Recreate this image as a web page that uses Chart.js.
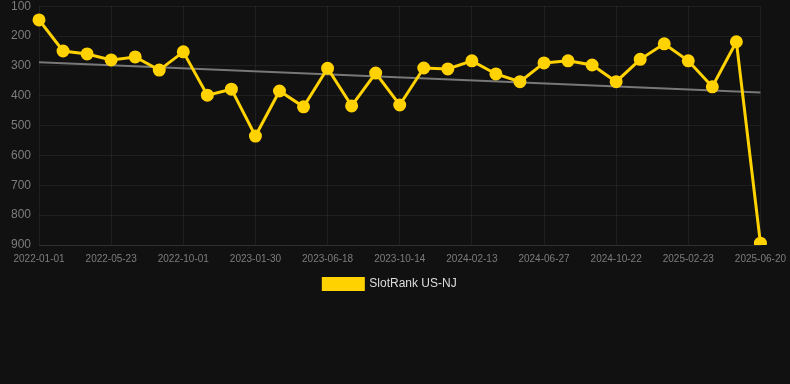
<!DOCTYPE html>
<html>
<head>
<meta charset="utf-8">
<script src="https://cdn.jsdelivr.net/npm/chart.js@4/dist/chart.umd.min.js"></script>
<style>
  html, body { margin: 0; padding: 0; background: #111111; overflow: hidden; }
  #wrap { width: 794px; height: 309px; position: relative; margin-top: -9px; }
</style>
</head>
<body>
<div id="wrap"><canvas id="c"></canvas></div>
<script>
const dates = [
  "2022-01-01","2022-02-17","2022-04-05","2022-05-23","2022-07-08","2022-08-15",
  "2022-10-01","2022-11-10","2022-12-20","2023-01-30","2023-03-17","2023-05-02",
  "2023-06-18","2023-07-30","2023-09-01","2023-10-14","2023-11-24","2024-01-03",
  "2024-02-13","2024-03-28","2024-05-13","2024-06-27","2024-08-08","2024-09-15",
  "2024-10-22","2024-12-05","2025-01-14","2025-02-23","2025-04-05","2025-05-13",
  "2025-06-20"
];
const rankValues = [
  146, 250, 260, 280, 270, 314, 253, 398, 378, 535, 384, 437,
  308, 434, 324, 431, 307, 310, 283, 327, 353, 290, 283, 297,
  353, 278, 226, 283, 370, 219, 894
];
const trendStart = 288;
const trendEnd = 389;
const yTicks = [100, 200, 300, 400, 500, 600, 700, 800, 900];

const trendData = dates.map((d, i) => i === 0 ? trendStart : (i === dates.length - 1 ? trendEnd : null));

new Chart(document.getElementById('c'), {
  type: 'line',
  data: {
    labels: dates,
    datasets: [
      {
        label: 'SlotRank US-NJ',
        data: rankValues,
        borderColor: '#FFD200',
        backgroundColor: '#FFD200',
        borderWidth: 3,
        pointRadius: 5,
        pointBackgroundColor: '#FFD200',
        pointBorderColor: '#FFD200',
        tension: 0,
        order: 1
      },
      {
        label: 'trend',
        data: trendData,
        borderColor: '#787878',
        borderWidth: 2,
        pointRadius: 0,
        spanGaps: true,
        fill: false,
        order: 2
      }
    ]
  },
  options: {
    responsive: true,
    maintainAspectRatio: false,
    animation: false,
    layout: { padding: { left: 3, right: 17, top: 0, bottom: 0 } },
    plugins: {
      legend: {
        position: 'bottom',
        labels: {
          color: '#dddddd',
          font: { family: 'Arial, "Liberation Sans", sans-serif', size: 12 },
          boxWidth: 40,
          boxHeight: 11,
          padding: 5,
          filter: (item) => item.text !== 'trend'
        }
      },
      tooltip: { enabled: false }
    },
    scales: {
      x: {
        grid: { color: 'rgba(255,255,255,0.06)', drawTicks: false },
        border: { color: 'rgba(255,255,255,0.08)' },
        ticks: {
          color: '#7d7d7d',
          font: { family: 'Arial, "Liberation Sans", sans-serif', size: 10 },
          autoSkip: false,
          maxRotation: 0,
          padding: 8,
          callback: function(value, index) {
            return index % 3 === 0 ? dates[index] : null;
          }
        }
      },
      y: {
        reverse: true,
        min: yTicks[0],
        max: yTicks[yTicks.length - 1],
        grid: { color: 'rgba(255,255,255,0.06)', drawTicks: false },
        border: { display: false },
        afterBuildTicks: (axis) => { axis.ticks = yTicks.map(v => ({ value: v })); },
        ticks: {
          color: '#7d7d7d',
          font: { family: 'Arial, "Liberation Sans", sans-serif', size: 12 },
          padding: 8
        }
      }
    }
  }
});
</script>
</body>
</html>
